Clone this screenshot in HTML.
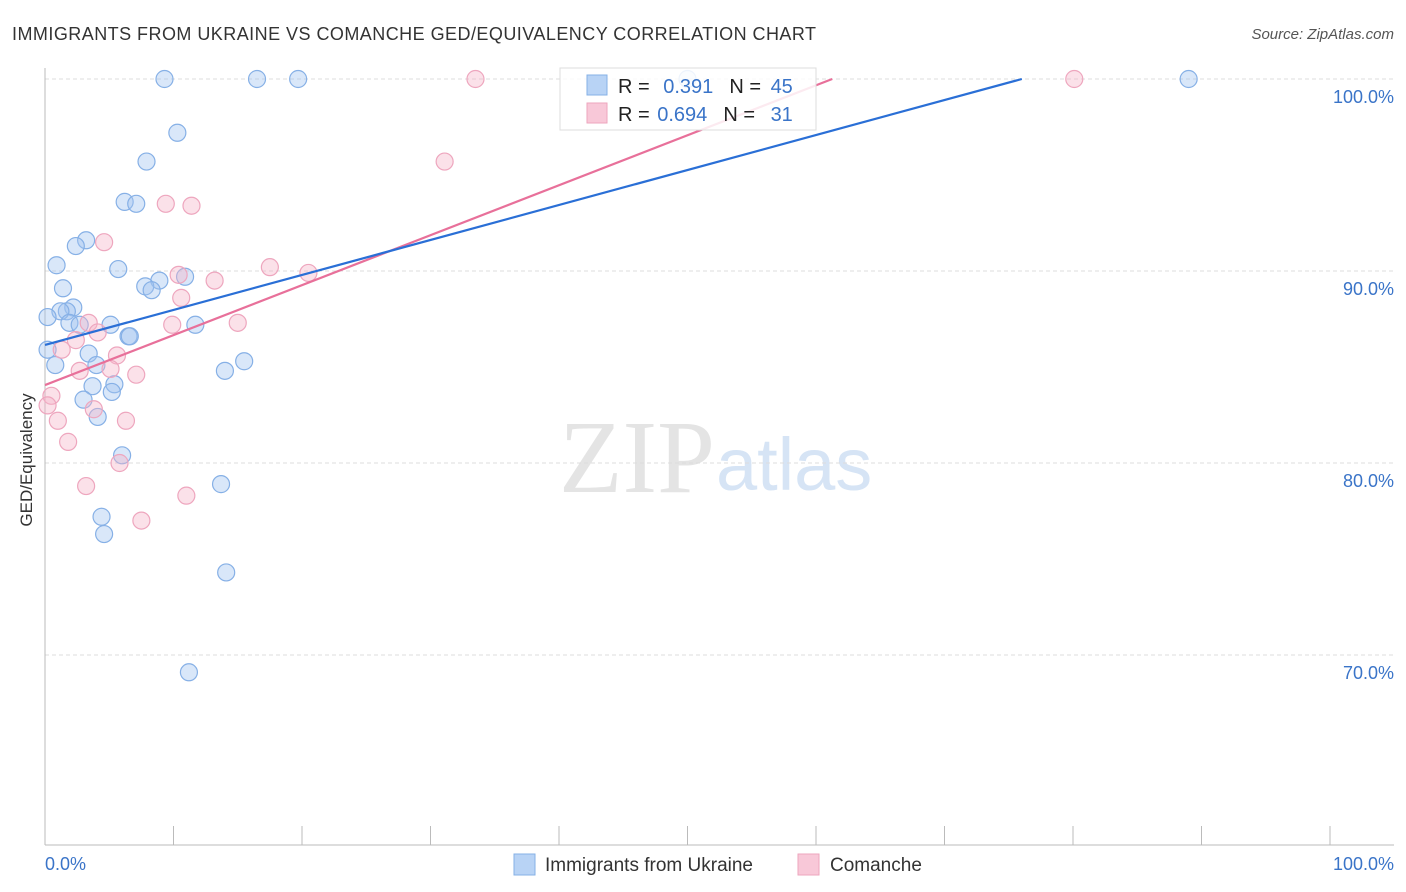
<!DOCTYPE html>
<html><head><meta charset="utf-8">
<style>
body{margin:0;background:#fff;font-family:"Liberation Sans",sans-serif;}
svg{display:block}
</style></head><body>
<svg id="chart" width="1406" height="892" xmlns="http://www.w3.org/2000/svg">
<text x="12" y="40" font-size="18" fill="#333" textLength="804">IMMIGRANTS FROM UKRAINE VS COMANCHE GED/EQUIVALENCY CORRELATION CHART</text>
<text x="1394" y="39" font-size="15" fill="#555" font-style="italic" text-anchor="end">Source: ZipAtlas.com</text>
<text x="715" y="492" font-size="104" fill="#e4e4e4" text-anchor="end" font-family="Liberation Serif,serif">ZIP</text>
<text x="716" y="490" font-size="74" fill="#d6e4f5">atlas</text>
<g id="grid"></g>
<g id="axes"></g>
<g id="marks"></g>
<text x="32" y="460" font-size="17" fill="#333" text-anchor="middle" transform="rotate(-90 32 460)">GED/Equivalency</text>
<text x="45" y="870" font-size="18" fill="#3a74c8">0.0%</text>
<text x="1394" y="870" font-size="18" fill="#3a74c8" text-anchor="end">100.0%</text>
<g>
<rect x="514" y="854" width="21" height="21" fill="#b8d3f5" stroke="#86b0e6"/>
<text x="545" y="871" font-size="19" fill="#333">Immigrants from Ukraine</text>
<rect x="798" y="854" width="21" height="21" fill="#f8c8d8" stroke="#eea6be"/>
<text x="830" y="871" font-size="19" fill="#333">Comanche</text>
</g>
<g>
<rect x="560" y="68" width="256" height="62" fill="#fff" fill-opacity="0.85" stroke="#ddd"/>
<rect x="587" y="75" width="20" height="20" fill="#b8d3f5" stroke="#86b0e6"/>
<text x="618" y="93" font-size="20" fill="#222">R = <tspan fill="#3a74c8" dx="8">0.391</tspan><tspan dx="16">N = </tspan><tspan fill="#3a74c8" dx="4">45</tspan></text>
<rect x="587" y="103" width="20" height="20" fill="#f8c8d8" stroke="#eea6be"/>
<text x="618" y="121" font-size="20" fill="#222">R = <tspan fill="#3a74c8" dx="2">0.694</tspan><tspan dx="16">N = </tspan><tspan fill="#3a74c8" dx="10">31</tspan></text>
</g>
</svg>
<script>
const yTicks=[100,90,80,70];
const yTickLabels=["100.0%","90.0%","80.0%","70.0%"];
const xTicks=[0,10,20,30,40,50,60,70,80,90,100];
const blueX=[9.3,16.5,19.7,89,50.0,10.3,7.9,6.2,7.1,3.2,2.4,0.9,5.7,10.9,8.9,7.8,8.3,1.4,2.2,1.7,1.2,0.2,1.9,2.7,5.1,11.7,6.5,6.6,0.2,3.4,0.8,4.0,15.5,14.0,5.4,3.7,5.2,3.0,4.1,6.0,13.7,4.4,4.6,14.1,11.2];
const blueY=[100,100,100,100,100,97.2,95.7,93.6,93.5,91.6,91.3,90.3,90.1,89.7,89.5,89.2,89.0,89.1,88.1,87.9,87.9,87.6,87.3,87.2,87.2,87.2,86.6,86.6,85.9,85.7,85.1,85.1,85.3,84.8,84.1,84.0,83.7,83.3,82.4,80.4,78.9,77.2,76.3,74.3,69.1];
const pinkX=[33.5,80.1,31.1,9.4,11.4,4.6,10.4,17.5,20.5,13.2,10.6,3.4,9.9,15.0,4.1,2.4,1.3,5.6,5.1,7.1,2.7,0.5,0.2,3.8,6.3,1.0,1.8,5.8,3.2,11.0,7.5];
const pinkY=[100,100,95.7,93.5,93.4,91.5,89.8,90.2,89.9,89.5,88.6,87.3,87.2,87.3,86.8,86.4,85.9,85.6,84.9,84.6,84.8,83.5,83.0,82.8,82.2,82.2,81.1,80.0,78.8,78.3,77.0];
const blueLine=[86.15,0.1822]; // intercept, slope
const pinkLine=[84.06,0.2602];
const X=v=>45+v*12.85, Y=v=>79+(100-v)*19.2;
const NS="http://www.w3.org/2000/svg";
function mk(t,a,p){const e=document.createElementNS(NS,t);for(const k in a)e.setAttribute(k,a[k]);p.appendChild(e);return e;}
const grid=document.getElementById('grid'),axes=document.getElementById('axes'),marks=document.getElementById('marks');
yTicks.forEach((t,i)=>{
 const l=mk('line',{x1:45,x2:1394,y1:Y(t),y2:Y(t),stroke:'#ddd','stroke-dasharray':'4,3'},grid);
 
 
 const tx=mk('text',{x:1394,y:Y(t)+24,'font-size':18,fill:'#3a74c8','text-anchor':'end'},grid);
 tx.textContent=yTickLabels[i];
 
 
});
const ax=mk('line',{x1:45,x2:1394,y1:845,y2:845,stroke:'#bbb'},axes);


const ay=mk('line',{x1:45,x2:45,y1:68,y2:845,stroke:'#bbb'},axes);


xTicks.forEach(t=>{const l=mk('line',{x1:X(t),x2:X(t),y1:826,y2:845,stroke:'#bbb'},axes);
 
 });
function pts(xs,ys,fill,stroke,name){xs.forEach((x,i)=>{const c=mk('circle',{cx:X(x),cy:Y(ys[i]),r:8.5,fill:fill,stroke:stroke,'stroke-width':1.2},marks);
 
 });}
pts(blueX,blueY,'rgba(160,196,240,0.4)','#86b0e6','point-ukraine');
pts(pinkX,pinkY,'rgba(245,180,200,0.4)','#eea6be','point-comanche');
function line(c,col,name){const xe=(100-c[0])/c[1];const l=mk('line',{x1:X(0),y1:Y(c[0]),x2:X(xe),y2:Y(100),stroke:col,'stroke-width':2.2},marks);
 
 }
line(pinkLine,'#e8709a','trendline-comanche');
line(blueLine,'#2a6fd6','trendline-ukraine');
</script>
</body></html>
